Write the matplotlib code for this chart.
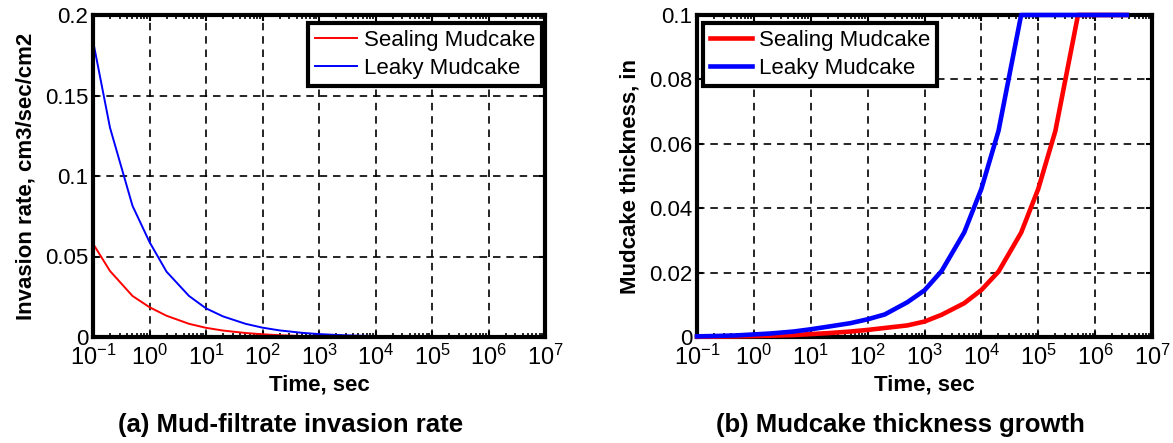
import matplotlib
matplotlib.use("Agg")
import matplotlib.pyplot as plt
from matplotlib.ticker import LogLocator, NullFormatter, FixedLocator

plt.rcParams['font.family'] = ['Liberation Sans', 'DejaVu Sans']
plt.rcParams['mathtext.fontset'] = 'custom'
plt.rcParams['mathtext.rm'] = 'Liberation Sans'
plt.rcParams['mathtext.it'] = 'Liberation Sans:italic'
plt.rcParams['mathtext.bf'] = 'Liberation Sans:bold'

# Simulation time samples, seconds
time_sec = [0.1, 0.2, 0.5, 1, 2, 5, 10, 20, 50, 100, 200, 500,
            1e3, 2e3, 5e3, 1e4, 2e4, 5e4, 1e5, 2e5, 5e5, 1e6, 2e6, 3.6e6]

# Mud-filtrate invasion rate, cm3/sec/cm2
rate_sealing = [0.058, 0.041, 0.0255, 0.0185, 0.0132, 0.0082, 0.0057, 0.0040,
                0.0025, 0.0017, 0.0011, 0.0006, 0.0003, 0.0002, 0.0001, 0.0001,
                0.00005, 0.00003, 0.00002, 0.00001, 0.0, 0.0, 0.0, 0.0]
rate_leaky = [0.184, 0.130, 0.0815, 0.059, 0.0406, 0.0255, 0.0178, 0.0128,
              0.0082, 0.0058, 0.0041, 0.0026, 0.0018, 0.0013, 0.0008, 0.0006,
              0.0004, 0.0003, 0.0002, 0.0001, 0.0001, 0.00005, 0.00003, 0.00002]

# Mudcake thickness, inches
thick_sealing = [0.0001, 0.0001, 0.0002, 0.0003, 0.0004, 0.0006, 0.0009, 0.0012,
                 0.0017, 0.0022, 0.0028, 0.0036, 0.0048, 0.0069, 0.0105, 0.0146,
                 0.0203, 0.0324, 0.046, 0.064, 0.1, 0.1, 0.1, 0.1]
thick_leaky = [0.0002, 0.0003, 0.0005, 0.0008, 0.0011, 0.0017, 0.0024, 0.0032,
               0.0043, 0.0055, 0.0070, 0.0108, 0.0145, 0.0205, 0.0325, 0.046,
               0.064, 0.1, 0.1, 0.1, 0.1, 0.1, 0.1, 0.1]

series_labels = ['Sealing Mudcake', 'Leaky Mudcake']
rate_yticks = [0, 0.05, 0.1, 0.15, 0.2]
rate_yticklabels = ['0', '0.05', '0.1', '0.15', '0.2']
thick_yticks = [0, 0.02, 0.04, 0.06, 0.08, 0.1]
thick_yticklabels = ['0', '0.02', '0.04', '0.06', '0.08', '0.1']
x_exponents = list(range(-1, 8))

W, H = 1173, 443
fig = plt.figure(figsize=(W / 100, H / 100), dpi=100)

ax1 = fig.add_axes([93 / W, 1 - 337 / H, 452 / W, 322 / H])
ax2 = fig.add_axes([697 / W, 1 - 337 / H, 455 / W, 322 / H])

TICK_FS = 16
XTICK_FS = 17
LABEL_FS = 16
LEGEND_FS = 16
CAPTION_FS = 18.5


def style_axes(ax, yticks, yticklabels, ymax):
    ax.set_xscale('log')
    ax.set_xlim(0.1, 1e7)
    ax.set_ylim(0, ymax)
    ax.xaxis.set_major_locator(FixedLocator([10.0 ** e for e in x_exponents]))
    ax.set_xticklabels([r'$\mathregular{10^{%d}}$' % e for e in x_exponents])
    ax.xaxis.set_minor_locator(LogLocator(base=10, subs=range(2, 10), numticks=30))
    ax.xaxis.set_minor_formatter(NullFormatter())
    ax.set_yticks(yticks)
    ax.set_yticklabels(yticklabels)
    ax.tick_params(axis='both', which='major', direction='in', length=4, width=1.5,
                   top=True, right=True)
    ax.tick_params(axis='x', which='major', pad=5.5, labelsize=XTICK_FS)
    ax.tick_params(axis='y', which='major', pad=3.5, labelsize=TICK_FS)
    ax.tick_params(axis='x', which='minor', direction='in', length=3, width=1.2,
                   top=True, bottom=True)
    ax.grid(True, which='major', color='black', linestyle=(0, (4.5, 3.5)), linewidth=1.2)
    for sp in ax.spines.values():
        sp.set_linewidth(3)
        sp.set_color('black')
    ax.set_xlabel('Time, sec', fontsize=LABEL_FS, fontweight='bold', labelpad=3)


def style_legend(leg):
    frame = leg.get_frame()
    frame.set_edgecolor('black')
    frame.set_linewidth(3)
    frame.set_alpha(1)
    leg.set_zorder(5)


legend_kw = dict(fontsize=LEGEND_FS, frameon=True, fancybox=False,
                 handlelength=1.9, handletextpad=0.3, labelspacing=0.32,
                 borderpad=0.32, borderaxespad=0, bbox_transform=fig.transFigure)

# (a) invasion rate
style_axes(ax1, rate_yticks, rate_yticklabels, 0.2)
ax1.plot(time_sec, rate_sealing, color='#ff0000', linewidth=1.4, label=series_labels[0])
ax1.plot(time_sec, rate_leaky, color='#0000ff', linewidth=1.4, label=series_labels[1])
ax1.set_ylabel('Invasion rate, cm3/sec/cm2', fontsize=LABEL_FS, fontweight='bold',
               labelpad=6)
leg1 = ax1.legend(loc='upper right', bbox_to_anchor=(542 / W, 1 - 23 / H), **legend_kw)
style_legend(leg1)

# (b) mudcake thickness
style_axes(ax2, thick_yticks, thick_yticklabels, 0.1)
ax2.plot(time_sec, thick_sealing, color='#ff0000', linewidth=3.3, label=series_labels[0],
         clip_on=False, zorder=3)
ax2.plot(time_sec, thick_leaky, color='#0000ff', linewidth=3.3, label=series_labels[1],
         clip_on=False, zorder=3)
ax2.set_ylabel('Mudcake thickness, in', fontsize=LABEL_FS, fontweight='bold', labelpad=6)
leg2 = ax2.legend(loc='upper left', bbox_to_anchor=(703 / W, 1 - 23 / H), **legend_kw)
style_legend(leg2)

fig.text(291 / W, 1 - 425 / H, '(a) Mud-filtrate invasion rate',
         ha='center', va='center', fontsize=CAPTION_FS, fontweight='bold')
fig.text(900 / W, 1 - 425 / H, '(b) Mudcake thickness growth',
         ha='center', va='center', fontsize=CAPTION_FS, fontweight='bold')

fig.savefig('out.png', dpi=100)
